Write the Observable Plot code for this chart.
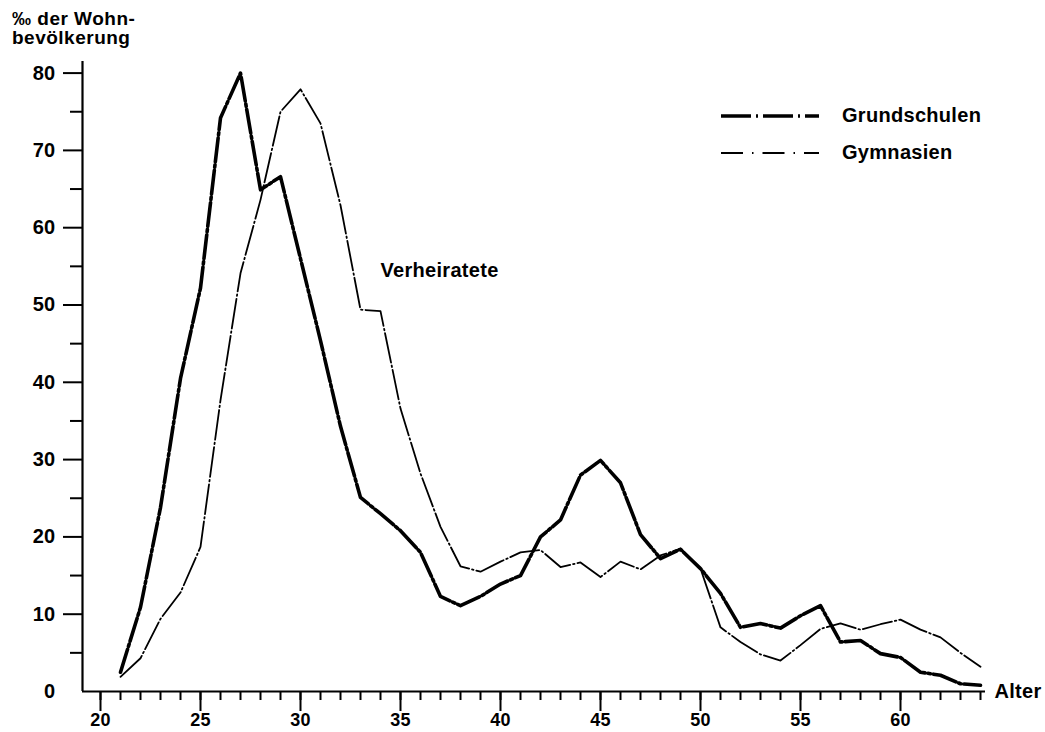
<!DOCTYPE html>
<html>
<head>
<meta charset="utf-8">
<script src="https://cdn.jsdelivr.net/npm/d3@7"></script>
<script src="https://cdn.jsdelivr.net/npm/@observablehq/plot@0.6"></script>
<style>
  html, body { margin: 0; padding: 0; background: #fff; }
  #wrap { position: relative; width: 1045px; height: 732px; font-family: "Liberation Sans", Arial, sans-serif; font-weight: bold; color: #000; }
  #ytitle { position: absolute; left: 12px; top: 9px; font-size: 19px; line-height: 19px; letter-spacing: 0.5px; }
  #legend { position: absolute; left: 720px; top: 97px; font-size: 20px; letter-spacing: 0.3px; }
  #legend .row { display: flex; align-items: center; height: 37px; }
  #legend svg { margin-right: 22px; }
</style>
</head>
<body>
<div id="wrap">
  <div id="chart"></div>
  <div id="ytitle">‰ der Wohn-<br>bevölkerung</div>
  <div id="legend"></div>
</div>
<script>
// ---- data ----
const ages = [21,22,23,24,25,26,27,28,29,30,31,32,33,34,35,36,37,38,39,40,41,42,43,44,45,46,47,48,49,50,51,52,53,54,55,56,57,58,59,60,61,62,63,64];
const grundschulen = [2.5,10.9,23.8,40.5,52.2,74.2,80.0,64.9,66.6,56.0,45.4,34.3,25.1,23.0,20.8,18.0,12.3,11.1,12.3,13.9,15.0,20.0,22.2,28.0,29.9,27.0,20.3,17.2,18.4,15.9,12.7,8.3,8.8,8.2,9.8,11.1,6.4,6.6,4.9,4.4,2.5,2.1,1.0,0.8];
const gymnasien = [1.9,4.3,9.4,12.8,18.7,37.7,54.1,63.6,75.0,77.9,73.5,62.9,49.4,49.2,36.6,28.2,21.3,16.2,15.5,16.8,18.0,18.3,16.1,16.7,14.8,16.8,15.8,17.6,18.5,15.9,8.3,6.4,4.8,4.0,6.0,8.1,8.8,8.0,8.7,9.3,8.0,7.0,5.0,3.2];
const seriesNames = ["Grundschulen", "Gymnasien"];
const yMajorTicks = [10,20,30,40,50,60,70,80];
const yMinorTicks = [5,15,25,35,45,55,65,75];
const xMajorTicks = [20,25,30,35,40,45,50,55,60];
const xMinorTicks = d3.range(20, 65);
const annotation = [{age: 34, value: 54.4, text: "Verheiratete"}];
const xLabel = "Alter";

const gsData = ages.map((a, i) => ({age: a, value: grundschulen[i]}));
const gyData = ages.map((a, i) => ({age: a, value: gymnasien[i]}));

const xDomain = [19.1, 64.25];
const yDomain = [0, 81.5];

const plot = Plot.plot({
  width: 1045,
  height: 732,
  marginLeft: 82,
  marginRight: 60,
  marginTop: 61,
  marginBottom: 41,
  x: {domain: xDomain},
  y: {domain: yDomain},
  style: {fontFamily: "'Liberation Sans', Arial, sans-serif", fontSize: "20px", fontWeight: "bold", color: "#000", background: "#fff", letterSpacing: "0.3px"},
  marks: [
    Plot.axisY({ticks: yMajorTicks, tickSize: 19, tickPadding: 8, strokeWidth: 2, label: null, tickFormat: d => String(d)}),
    Plot.axisY({ticks: yMinorTicks, tickSize: 12, strokeWidth: 2, label: null, tickFormat: () => ""}),
    Plot.axisY({ticks: [0], tickSize: 0, tickPadding: 27, label: null, tickFormat: d => String(d)}),
    Plot.axisX({ticks: xMinorTicks, tickSize: 9, strokeWidth: 2, label: null, tickFormat: () => ""}),
    Plot.axisX({ticks: xMajorTicks, tickSize: 20, tickPadding: 2, strokeWidth: 2, fontSize: 18, label: null, tickFormat: d => String(d)}),
    Plot.ruleX([xDomain[0]], {stroke: "#000", strokeWidth: 2.2}),
    Plot.ruleY([0], {stroke: "#000", strokeWidth: 2.2}),
    Plot.line(gyData, {x: "age", y: "value", stroke: "#000", strokeWidth: 1.8, strokeDasharray: "30,3,1.5,3", strokeLinejoin: "round"}),
    Plot.line(gsData, {x: "age", y: "value", stroke: "#000", strokeWidth: 3.6, strokeDasharray: "24,3,2.5,3", strokeLinejoin: "round"}),
    Plot.text(annotation, {x: "age", y: "value", text: "text", textAnchor: "start", lineAnchor: "middle", fontSize: 20, fontWeight: "bold", fill: "#000"}),
    Plot.text([xLabel], {frameAnchor: "bottom-right", textAnchor: "start", lineAnchor: "middle", dx: 9, fontSize: 20, fontWeight: "bold", fill: "#000"})
  ]
});
document.getElementById("chart").appendChild(plot);

// legend
const legendStyles = [
  {w: 3.6, dash: "30,5,2,5"},
  {w: 1.8, dash: "22,9,1.5,9"}
];
const legend = d3.select("#legend");
seriesNames.forEach((name, i) => {
  const row = legend.append("div").attr("class", "row");
  const svg = row.append("svg").attr("width", 100).attr("height", 10);
  svg.append("line").attr("x1", 1).attr("x2", 99).attr("y1", 5).attr("y2", 5)
    .attr("stroke", "#000").attr("stroke-width", legendStyles[i].w)
    .attr("stroke-dasharray", legendStyles[i].dash);
  row.append("span").text(name);
});
</script>
</body>
</html>
